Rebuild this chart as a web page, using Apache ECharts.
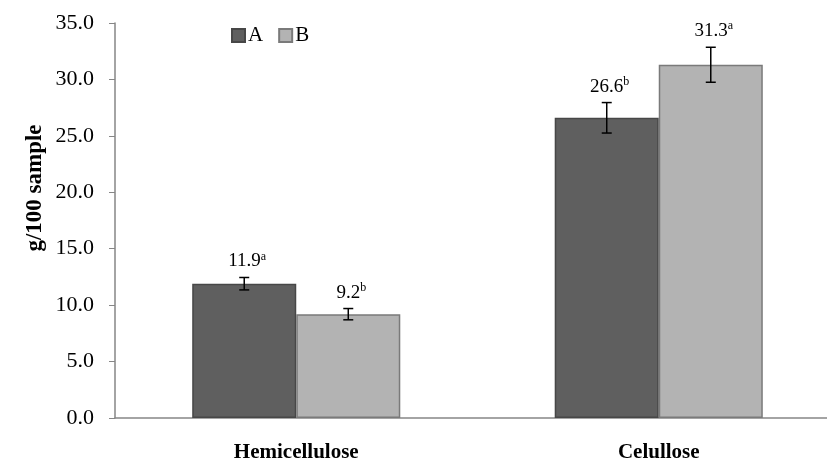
<!DOCTYPE html>
<html>
<head>
<meta charset="utf-8">
<script src="https://cdn.jsdelivr.net/npm/echarts@6/dist/echarts.min.js"></script>
<style>html,body{margin:0;padding:0;background:#fff}#c{width:827px;height:464px}</style>
</head>
<body>
<div id="c"></div>
<script>
const categories = ['Hemicellulose', 'Celullose'];
const seriesNames = ['A', 'B'];
const valuesA = [11.9, 26.6];
const valuesB = [9.2, 31.3];
const errorsA = [0.55, 1.35];
const errorsB = [0.5, 1.55];
const lettersA = ['a', 'b'];
const lettersB = ['b', 'a'];
const yTicks = { min: 0, max: 35, interval: 5 };

const FONT = '"Liberation Serif", "Times New Roman", serif';
const BAR_FRAC = 0.287;

function errSeries(idx, vals, errs, letters) {
  return {
    type: 'custom',
    name: seriesNames[idx] + ' err',
    z: 5,
    data: vals.map((v, i) => [i, v, errs[i]]),
    renderItem: function (params, api) {
      const x = api.value(0), v = api.value(1), e = api.value(2);
      const band = api.size([1, 0])[0];
      const off = (idx === 0 ? -1 : 1) * band * BAR_FRAC / 2;
      const top = api.coord([x, v + e]);
      const bot = api.coord([x, v - e]);
      const cx = top[0] + off;
      const cap = 5;
      const st = { stroke: '#000', lineWidth: 1.5 };
      const letter = letters[x];
      return {
        type: 'group',
        children: [
          { type: 'line', shape: { x1: cx, y1: top[1], x2: cx, y2: bot[1] }, style: st },
          { type: 'line', shape: { x1: cx - cap, y1: top[1], x2: cx + cap, y2: top[1] }, style: st },
          { type: 'line', shape: { x1: cx - cap, y1: bot[1], x2: cx + cap, y2: bot[1] }, style: st },
          {
            type: 'text',
            x: cx + 3,
            y: top[1] - 5,
            style: {
              text: '{v|' + v.toFixed(1) + '}{s|' + letter + '}',
              align: 'center',
              verticalAlign: 'bottom',
              rich: {
                v: { fontSize: 19, fontFamily: FONT, fill: '#000', lineHeight: 22 },
                s: { fontSize: 12, fontFamily: FONT, fill: '#000', lineHeight: 22, verticalAlign: 'top' }
              }
            }
          }
        ]
      };
    }
  };
}

const chart = echarts.init(document.getElementById('c'));
chart.setOption({
  animation: false,
  backgroundColor: '#fff',
  textStyle: { fontFamily: FONT },
  grid: { left: 115, top: 23, width: 725, height: 395, outerBoundsMode: 'none', containLabel: false },
  legend: {
    data: seriesNames,
    left: 226, top: 20,
    icon: 'rect', itemWidth: 13, itemHeight: 13, itemGap: 15,
    textStyle: { fontFamily: FONT, fontSize: 21, color: '#000', padding: [0, 0, 0, -2] }
  },
  xAxis: {
    type: 'category',
    data: categories,
    axisLine: { lineStyle: { color: '#868686', width: 1.5 } },
    axisTick: { show: false },
    axisLabel: { fontFamily: FONT, fontSize: 21, fontWeight: 'bold', color: '#000', margin: 24 }
  },
  yAxis: {
    type: 'value',
    min: yTicks.min, max: yTicks.max, interval: yTicks.interval,
    splitLine: { show: false },
    axisLine: { show: true, lineStyle: { color: '#868686', width: 1.5 } },
    axisTick: { show: true, length: 6, lineStyle: { color: '#868686' } },
    axisLabel: { fontFamily: FONT, fontSize: 22, color: '#000', margin: 21, formatter: v => v.toFixed(1) }
  },
  graphic: [{
    type: 'text',
    x: 35, y: 188,
    rotation: Math.PI / 2,
    style: { text: 'g/100 sample', fontFamily: FONT, fontSize: 23, fontWeight: 'bold', fill: '#000', align: 'center', verticalAlign: 'middle' }
  }],
  series: [
    { type: 'bar', name: 'A', data: valuesA, barWidth: (BAR_FRAC * 100) + '%', barGap: '0%',
      itemStyle: { color: '#5f5f5f', borderColor: '#474747', borderWidth: 1.5 } },
    { type: 'bar', name: 'B', data: valuesB, barWidth: (BAR_FRAC * 100) + '%', barGap: '0%',
      itemStyle: { color: '#b3b3b3', borderColor: '#7a7a7a', borderWidth: 1.5 } },
    errSeries(0, valuesA, errorsA, lettersA),
    errSeries(1, valuesB, errorsB, lettersB)
  ]
});
</script>
</body>
</html>
